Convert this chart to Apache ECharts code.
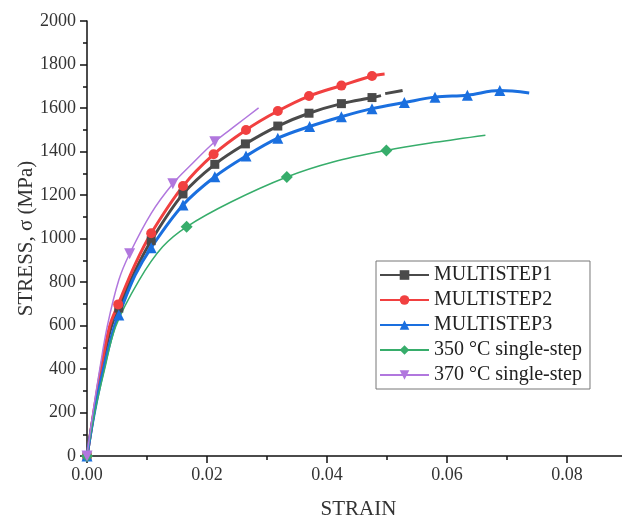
<!DOCTYPE html>
<html>
<head>
<meta charset="utf-8">
<script src="https://cdn.jsdelivr.net/npm/echarts@6/dist/echarts.min.js"></script>
<style>
  html, body { margin: 0; padding: 0; background: #fff; }
  #chart { width: 622px; height: 518px; }
</style>
</head>
<body>
<div id="chart"></div>
<script>
// Stress-strain curves: strain (mm/mm) and stress (MPa) per specimen.
// mark* arrays list the indices of points that carry a symbol.
const strainMS1 = [0, 0.0011, 0.0024, 0.0040, 0.0053, 0.0080, 0.0107, 0.0160, 0.0213, 0.0264, 0.0318, 0.0370, 0.0424, 0.0475, 0.0490];
const stressMS1 = [0, 190, 390, 590, 680, 850, 990, 1205, 1341, 1435, 1517, 1576, 1620, 1648, 1657];
const markMS1 = [0, 4, 6, 7, 8, 9, 10, 11, 12, 13];
const strainMS1End = [0.0497, 0.0526];
const stressMS1End = [1666, 1680];

const strainMS2 = [0, 0.0011, 0.0023, 0.0038, 0.0052, 0.0080, 0.0107, 0.0160, 0.0211, 0.0265, 0.0318, 0.0370, 0.0424, 0.0475, 0.0496];
const stressMS2 = [0, 196, 395, 599, 697, 880, 1024, 1241, 1387, 1499, 1586, 1655, 1703, 1747, 1756];
const markMS2 = [0, 4, 6, 7, 8, 9, 10, 11, 12, 13];

const strainMS3 = [0, 0.0012, 0.0027, 0.0045, 0.0053, 0.0080, 0.0107, 0.0160, 0.0213, 0.0265, 0.0318, 0.0371, 0.0424, 0.0475, 0.0529, 0.0580, 0.0634, 0.0688, 0.0737];
const stressMS3 = [0, 196, 395, 590, 648, 830, 958, 1154, 1284, 1379, 1461, 1515, 1560, 1597, 1625, 1650, 1659, 1680, 1669];
const markMS3 = [0, 4, 6, 7, 8, 9, 10, 11, 12, 13, 14, 15, 16, 17];

const strain350 = [0, 0.00125, 0.0029, 0.0048, 0.0087, 0.0126, 0.0166, 0.0240, 0.0333, 0.0410, 0.0499, 0.0580, 0.0664];
const stress350 = [0, 196, 395, 597, 809, 962, 1054, 1168, 1283, 1352, 1405, 1442, 1475];
const mark350 = [0, 6, 8, 10];

const strain370 = [0, 0.00097, 0.0021, 0.0034, 0.0053, 0.0071, 0.0107, 0.0143, 0.0176, 0.0213, 0.0249, 0.0286];
const stress370 = [0, 196, 395, 599, 809, 930, 1116, 1252, 1346, 1445, 1522, 1601];
const mark370 = [0, 5, 7, 9];

const seriesNames = ['MULTISTEP1', 'MULTISTEP2', 'MULTISTEP3', '350 °C single-step', '370 °C single-step'];
const strainTicks = [0, 0.02, 0.04, 0.06, 0.08];

const serif = '"Liberation Serif", "Times New Roman", serif';

function points(xs, ys, marks) {
  return xs.map((x, i) => {
    const item = { value: [x, ys[i]] };
    if (!marks.includes(i)) item.symbol = 'none';
    return item;
  });
}

function curve(name, xs, ys, marks, color, width, symbol, size, extra) {
  return Object.assign({
    name: name,
    type: 'line',
    data: points(xs, ys, marks),
    smooth: 0.35,
    showSymbol: true,
    showAllSymbol: true,
    symbol: symbol,
    symbolSize: size,
    lineStyle: { color: color, width: width },
    itemStyle: { color: color },
    emphasis: { disabled: true }
  }, extra || {});
}

const chart = echarts.init(document.getElementById('chart'), null, { renderer: 'canvas' });

chart.setOption({
  animation: false,
  backgroundColor: '#fff',
  // the strain axis runs on past the right edge of the canvas
  grid: { left: 87, top: 21, width: 600, bottom: 62, containLabel: false, outerBoundsMode: 'none' },
  legend: {
    data: seriesNames,
    orient: 'vertical',
    left: 376,
    top: 261,
    padding: [4, 8, 4, 3],
    itemGap: 5,
    itemWidth: 49,
    itemHeight: 12,
    borderColor: '#777',
    borderWidth: 1,
    backgroundColor: '#fff',
    textStyle: { fontFamily: serif, fontSize: 20, lineHeight: 20, color: '#222' }
  },
  xAxis: {
    type: 'value',
    min: 0,
    max: 0.1,
    interval: 0.02,
    name: 'STRAIN',
    nameLocation: 'middle',
    nameGap: 43,
    nameMoveOverlap: false,
    nameTextStyle: { fontFamily: serif, fontSize: 21, color: '#333', padding: [0, 57, 0, 0] },
    axisLine: { show: true, onZero: false, lineStyle: { color: '#111', width: 1.5 } },
    axisTick: { show: true, inside: false, length: 7, lineStyle: { color: '#111', width: 1.5 } },
    minorTick: { show: true, splitNumber: 2, length: 4, lineStyle: { color: '#111', width: 1.5 } },
    splitLine: { show: false },
    axisLabel: {
      fontFamily: serif, fontSize: 18, color: '#333', margin: 10,
      showMaxLabel: false,
      formatter: v => strainTicks.some(t => Math.abs(t - v) < 1e-9) ? v.toFixed(2) : ''
    }
  },
  yAxis: {
    type: 'value',
    min: 0,
    max: 2000,
    interval: 200,
    name: 'STRESS, σ (MPa)',
    nameLocation: 'middle',
    nameGap: 50,
    nameMoveOverlap: false,
    nameTextStyle: { fontFamily: serif, fontSize: 21, color: '#333' },
    axisLine: { show: true, onZero: false, lineStyle: { color: '#111', width: 1.5 } },
    axisTick: { show: true, inside: false, length: 7, lineStyle: { color: '#111', width: 1.5 } },
    minorTick: { show: true, splitNumber: 2, length: 4, lineStyle: { color: '#111', width: 1.5 } },
    splitLine: { show: false },
    axisLabel: { fontFamily: serif, fontSize: 18, color: '#333', margin: 11, formatter: v => String(v) }
  },
  series: [
    curve(seriesNames[0], strainMS1, stressMS1, markMS1, '#4a4a4a', 3, 'rect', 9),
    curve('MULTISTEP1 end', strainMS1End, stressMS1End, [], '#4a4a4a', 3, 'none', 0, { smooth: false }),
    curve(seriesNames[1], strainMS2, stressMS2, markMS2, '#f14040', 3, 'circle', 10),
    curve(seriesNames[2], strainMS3, stressMS3, markMS3, '#1a6fdf', 3, 'triangle', 11),
    curve(seriesNames[3], strain350, stress350, mark350, '#37ad6b', 1.5, 'diamond', 12),
    curve(seriesNames[4], strain370, stress370, mark370, '#b177de', 1.5, 'triangle', 11, { symbolRotate: 180 })
  ]
});
</script>
</body>
</html>
